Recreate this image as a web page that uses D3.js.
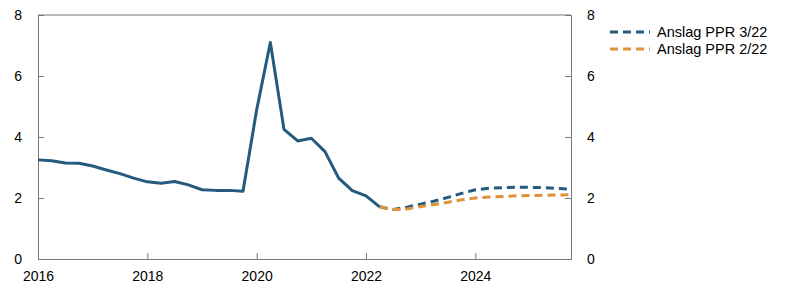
<!DOCTYPE html>
<html>
<head>
<meta charset="utf-8">
<script src="https://cdn.jsdelivr.net/npm/d3@7"></script>
<style>
  body { margin: 0; background: #fff; }
  svg { font-family: "Liberation Sans", Arial, sans-serif; }
  .axis path, .axis line { stroke: #777; }
  .axis text { fill: #000; font-size: 14px; }
</style>
</head>
<body>
<svg id="chart" width="797" height="295"></svg>
<script>
// quarterly values, first point is 2016 Q1
const actualStart = 2016;
const actual = [3.25, 3.22, 3.15, 3.14, 3.05, 2.92, 2.80, 2.65, 2.53, 2.48, 2.54, 2.43,
                2.27, 2.25, 2.25, 2.22, 4.89, 7.10, 4.25, 3.87, 3.96, 3.52, 2.65, 2.24,
                2.07, 1.71];
// forecasts start 2022 Q2
const forecastStart = 2022.25;
const ppr322 = [1.71, 1.62, 1.70, 1.80, 1.90, 2.02, 2.15, 2.27, 2.32, 2.34, 2.35, 2.35, 2.34, 2.31, 2.29];
const ppr222 = [1.71, 1.62, 1.64, 1.72, 1.79, 1.86, 1.94, 2.00, 2.03, 2.05, 2.07, 2.08, 2.09, 2.10, 2.11];
const yTicks = [0, 2, 4, 6, 8];
const xTicks = [2016, 2018, 2020, 2022, 2024];
const legendLabels = ["Anslag PPR 3/22", "Anslag PPR 2/22"];

const blue = "#245a7e";
const orange = "#e0923a";

const svg = d3.select("#chart");
const margin = { top: 15, right: 226, bottom: 36, left: 38 };
const width = 797, height = 295;

const x = d3.scaleLinear()
    .domain([2016, 2025.75])
    .range([margin.left, width - margin.right]);
const y = d3.scaleLinear()
    .domain([0, 8])
    .range([height - margin.bottom, margin.top]);

const toPoints = (arr, start) => arr.map((v, i) => ({ t: start + i / 4, v: v }));

const line = d3.line().x(d => x(d.t)).y(d => y(d.v));

// frame top
svg.append("line")
    .attr("x1", x.range()[0]).attr("x2", x.range()[1])
    .attr("y1", margin.top).attr("y2", margin.top)
    .attr("stroke", "#777");

// axes
svg.append("g").attr("class", "axis")
    .attr("transform", `translate(${margin.left},0)`)
    .call(d3.axisLeft(y).tickValues(yTicks).tickSize(-6).tickPadding(16).tickFormat(d3.format("d")));

svg.append("g").attr("class", "axis")
    .attr("transform", `translate(${width - margin.right},0)`)
    .call(d3.axisRight(y).tickValues(yTicks).tickSize(-6).tickPadding(16).tickFormat(d3.format("d")));

svg.append("g").attr("class", "axis")
    .attr("transform", `translate(0,${height - margin.bottom})`)
    .call(d3.axisBottom(x).tickValues(xTicks).tickSize(-6).tickPadding(12).tickFormat(d3.format("d")));

svg.selectAll(".axis .domain").attr("stroke", "#777");

// lines
svg.append("path")
    .datum(toPoints(ppr322, forecastStart))
    .attr("fill", "none").attr("stroke", blue).attr("stroke-width", 3)
    .attr("stroke-dasharray", "8,5")
    .attr("d", line);

svg.append("path")
    .datum(toPoints(ppr222, forecastStart))
    .attr("fill", "none").attr("stroke", orange).attr("stroke-width", 3)
    .attr("stroke-dasharray", "8,5")
    .attr("d", line);

svg.append("path")
    .datum(toPoints(actual, actualStart))
    .attr("fill", "none").attr("stroke", blue).attr("stroke-width", 3)
    .attr("stroke-linejoin", "round")
    .attr("d", line);

// legend
const legend = svg.append("g").attr("transform", "translate(610,32)");
[blue, orange].forEach((c, i) => {
    const g = legend.append("g").attr("transform", `translate(0,${i * 17})`);
    g.append("line").attr("x1", 0).attr("x2", 40).attr("y1", 0).attr("y2", 0)
        .attr("stroke", c).attr("stroke-width", 3).attr("stroke-dasharray", "8,5");
    g.append("text").attr("x", 47).attr("y", 0).attr("dy", "0.35em")
        .attr("font-size", 14.5).text(legendLabels[i]);
});
</script>
</body>
</html>
